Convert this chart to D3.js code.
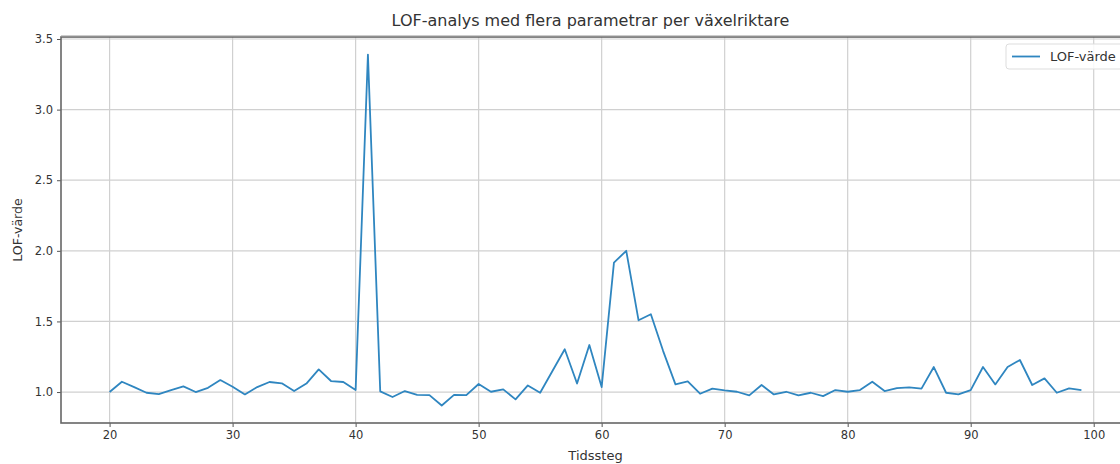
<!DOCTYPE html>
<html>
<head>
<meta charset="utf-8">
<script src="https://cdn.jsdelivr.net/npm/d3@7"></script>
<style>
    body { margin: 0; background: #fff; }
    svg { display: block; overflow: hidden; }
    text { font-family: "DejaVu Sans", sans-serif; fill: #333; }
</style>
</head>
<body>
<div id="chart"></div>
<script>
// data
var steps = d3.range(20, 100);
var lofValues = [
    1.00, 1.073, 1.035, 0.995, 0.985, 1.014, 1.04, 1.00, 1.03, 1.085,
    1.038, 0.983, 1.035, 1.071, 1.062, 1.007, 1.06, 1.16, 1.078, 1.071,
    1.014, 3.39, 1.005, 0.965, 1.007, 0.98, 0.978, 0.905, 0.98, 0.978,
    1.057, 1.002, 1.019, 0.948, 1.047, 0.995, 1.149, 1.303, 1.06, 1.333,
    1.035, 1.917, 2.0, 1.508, 1.551, 1.29, 1.054, 1.075, 0.988, 1.024,
    1.012, 1.002, 0.976, 1.05, 0.983, 1.002, 0.976, 0.995, 0.971, 1.014,
    1.002, 1.014, 1.073, 1.007, 1.028, 1.033, 1.024, 1.177, 0.995, 0.983,
    1.014, 1.177, 1.054, 1.177, 1.227, 1.05, 1.097, 0.995, 1.026, 1.014
];
var xTicks = [20, 30, 40, 50, 60, 70, 80, 90, 100];
var yTicks = [1.0, 1.5, 2.0, 2.5, 3.0, 3.5];
var titleText = 'LOF-analys med flera parametrar per växelriktare';
var xLabel = 'Tidssteg';
var yLabel = 'LOF-värde';
var seriesName = 'LOF-värde';

var width = 1120, height = 464;
// axes box (right edge runs past the window, like the reference)
var padding = [37, 1130, 423, 61]; // top, right, bottom, left
var lineColor = '#2f86c0';

var points = steps.map(function (s, i) { return [s, lofValues[i]]; });

// matplotlib-like 5% margins
var xExt = d3.extent(steps), yExt = d3.extent(lofValues);
var xm = (xExt[1] - xExt[0]) * 0.05, ym = (yExt[1] - yExt[0]) * 0.05;
var xScale = d3.scaleLinear().domain([xExt[0] - xm, xExt[1] + xm]).range([padding[3], padding[1]]);
var yScale = d3.scaleLinear().domain([yExt[0] - ym, yExt[1] + ym]).range([padding[2], padding[0]]);

var svg = d3.select('#chart').append('svg')
    .attr('width', width)
    .attr('height', height);

// grid
var grid = svg.append('g').attr('class', 'grid');
grid.selectAll('line.gx').data(xTicks).enter().append('line')
    .attr('x1', function (d) { return xScale(d); })
    .attr('x2', function (d) { return xScale(d); })
    .attr('y1', padding[0]).attr('y2', padding[2])
    .attr('stroke', '#d0d0d0').attr('stroke-width', 1.2);
grid.selectAll('line.gy').data(yTicks).enter().append('line')
    .attr('x1', padding[3]).attr('x2', padding[1])
    .attr('y1', function (d) { return yScale(d); })
    .attr('y2', function (d) { return yScale(d); })
    .attr('stroke', '#d0d0d0').attr('stroke-width', 1.2);

// axes
var xAxis = d3.axisBottom(xScale).tickValues(xTicks).tickSizeOuter(0).tickSizeInner(4).tickPadding(4)
    .tickFormat(d3.format('d'));
var yAxis = d3.axisLeft(yScale).tickValues(yTicks).tickSizeOuter(0).tickSizeInner(4).tickPadding(4)
    .tickFormat(d3.format('.1f'));

var xg = svg.append('g').attr('transform', 'translate(0,' + padding[2] + ')').call(xAxis);
var yg = svg.append('g').attr('transform', 'translate(' + padding[3] + ',0)').call(yAxis);
[xg, yg].forEach(function (g) {
    g.select('.domain').remove();
    g.selectAll('.tick line').attr('stroke', '#555').attr('stroke-width', 1);
    g.selectAll('.tick text').style('font-size', '11.5px').attr('fill', '#333');
});

// spines
svg.append('rect')
    .attr('x', padding[3]).attr('y', padding[0])
    .attr('width', padding[1] - padding[3]).attr('height', padding[2] - padding[0])
    .attr('fill', 'none').attr('stroke', '#666').attr('stroke-width', 1.6);
svg.append('line')
    .attr('x1', padding[3]).attr('x2', padding[1])
    .attr('y1', padding[0] - 1).attr('y2', padding[0] - 1)
    .attr('stroke', '#999').attr('stroke-width', 1.2);

// line
var line = d3.line()
    .x(function (d) { return xScale(d[0]); })
    .y(function (d) { return yScale(d[1]); });
svg.append('path').datum(points)
    .attr('d', line)
    .attr('fill', 'none')
    .attr('stroke', lineColor)
    .attr('stroke-width', 1.8)
    .attr('stroke-linejoin', 'round');

// title and labels
svg.append('text').attr('x', (padding[1] + padding[3]) / 2 - 5).attr('y', 26)
    .attr('text-anchor', 'middle').style('font-size', '16px').attr('fill', '#222')
    .text(titleText);
svg.append('text').attr('x', (padding[1] + padding[3]) / 2).attr('y', 460)
    .attr('text-anchor', 'middle').style('font-size', '13px')
    .text(xLabel);
svg.append('text')
    .attr('transform', 'translate(22,' + ((padding[0] + padding[2]) / 2) + ') rotate(-90)')
    .attr('text-anchor', 'middle').style('font-size', '12.5px')
    .text(yLabel);

// legend
var lg = svg.append('g').attr('transform', 'translate(1006,44)');
lg.append('rect').attr('x', 0).attr('y', 0).attr('width', 130).attr('height', 25)
    .attr('rx', 3).attr('fill', '#fff').attr('fill-opacity', 0.85)
    .attr('stroke', '#ddd');
lg.append('line').attr('x1', 6).attr('x2', 34).attr('y1', 12.5).attr('y2', 12.5)
    .attr('stroke', lineColor).attr('stroke-width', 1.8);
lg.append('text').attr('x', 44).attr('y', 17).style('font-size', '13px')
    .text(seriesName);
</script>
</body>
</html>
